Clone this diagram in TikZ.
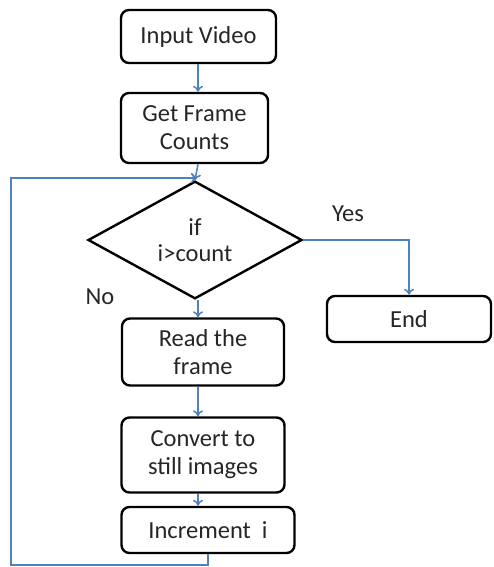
\documentclass[tikz,border=0pt]{standalone}
\usepackage{fontspec}
\setmainfont{Carlito}
\usetikzlibrary{shapes.geometric,arrows.meta,calc}
\definecolor{flowblue}{RGB}{79,129,189}
\begin{document}
\begin{tikzpicture}[x=1pt,y=-1pt,
  box/.style={draw=black,line width=2.4pt,rounded corners=8pt,fill=white,inner sep=0pt,
    align=center,font=\fontsize{24.5}{28}\selectfont,text=black!85},
  dec/.style={draw=black,line width=2.4pt,diamond,inner sep=0pt,fill=white,
    align=center,font=\fontsize{24.5}{26}\selectfont,text=black!85},
  lbl/.style={inner sep=0pt,font=\fontsize{24.5}{28}\selectfont,text=black!85},
  flow/.style={draw=flowblue,line width=1.5pt,-{To[length=6pt,width=10pt]}}]
\useasboundingbox (0,0) rectangle (493,567);
\node[box,minimum width=155pt,minimum height=53pt] (inp) at (198.5,36.5) {Input Video};
\node[box,minimum width=147pt,minimum height=70pt] (gfc) at (194.5,128) {Get Frame\\Counts};
\node[dec,minimum width=214pt,minimum height=112pt] (dec) at (195,240) {if\\i\char`>count};
\node[box,minimum width=164pt,minimum height=46pt] (end) at (409,319) {End};
\node[box,minimum width=162pt,minimum height=67pt] (read) at (203,352) {Read the\\frame};
\node[box,minimum width=163pt,minimum height=75pt] (conv) at (203,455) {Convert to\\still images};
\node[box,minimum width=173pt,minimum height=46pt] (inc) at (208,530) {Increment\ \ i};
\node[lbl] (yes) at (348,214) {Yes};
\node[lbl] (no) at (100,297) {No};
\coordinate (col) at (198,0);
\coordinate (lp) at (11,565);
\coordinate (top) at (197,178);
\draw[flow] (inp.south -| col) -- (gfc.north -| col);
\draw[flow] (gfc.south -| col) -- (dec.north);
\draw[flow] (inc.south) |- (lp) |- (top);
\draw[flow] (dec.east) -| (end.north);
\draw[flow] (dec.south -| col) -- (read.north -| col);
\draw[flow] (read.south -| col) -- (conv.north -| col);
\draw[flow] (conv.south -| col) -- (inc.north -| col);
\end{tikzpicture}
\end{document}
